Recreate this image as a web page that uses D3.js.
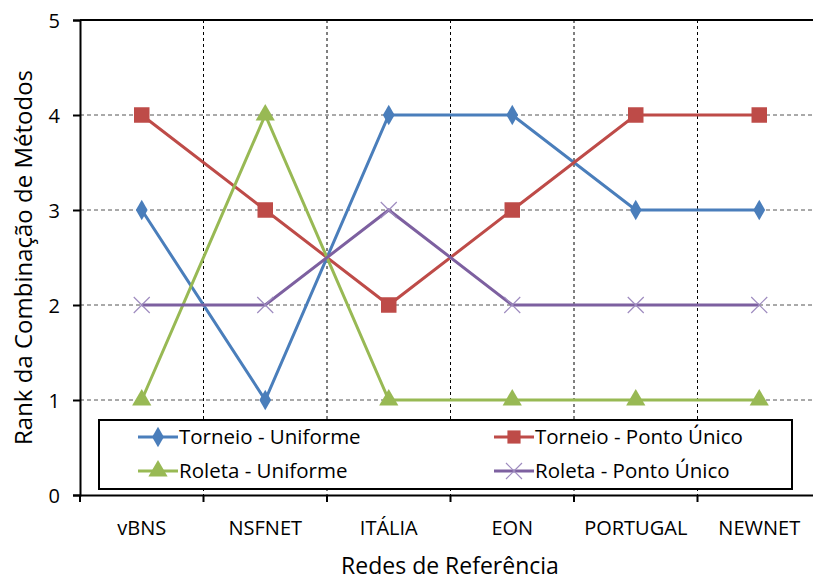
<!DOCTYPE html>
<html>
<head>
<meta charset="utf-8">
<script src="https://cdn.jsdelivr.net/npm/d3@7/dist/d3.min.js"></script>
<style>
  html, body { margin: 0; padding: 0; background: #fff; }
  svg { display: block; }
  text { font-family: "Open Sans", "Noto Sans", sans-serif; fill: #000; }
</style>
</head>
<body>
<svg id="chart" width="813" height="583"></svg>
<script>
const categories = ["vBNS", "NSFNET", "ITÁLIA", "EON", "PORTUGAL", "NEWNET"];
const yTicks = [0, 1, 2, 3, 4, 5];

const torneioUniforme = [3, 1, 4, 4, 3, 3];
const torneioPontoUnico = [4, 3, 2, 3, 4, 4];
const roletaUniforme = [1, 4, 1, 1, 1, 1];
const roletaPontoUnico = [2, 2, 3, 2, 2, 2];

const seriesNames = ["Torneio - Uniforme", "Torneio - Ponto Único", "Roleta - Uniforme", "Roleta - Ponto Único"];

const series = [
  { name: seriesNames[0], values: torneioUniforme, color: "#4A7EBB", symbol: "diamond" },
  { name: seriesNames[1], values: torneioPontoUnico, color: "#BE4B48", symbol: "square" },
  { name: seriesNames[2], values: roletaUniforme, color: "#98B954", symbol: "triangle" },
  { name: seriesNames[3], values: roletaPontoUnico, color: "#7D60A0", symbol: "cross" }
];

const svg = d3.select("#chart");
const margin = { left: 80, top: 20, right: 821, bottom: 495 };

const x = d3.scaleBand().domain(categories).range([margin.left, margin.right]).padding(0);
const y = d3.scaleLinear().domain([0, 5]).range([margin.bottom, margin.top]);

// horizontal gridlines
svg.append("g").selectAll("line").data(yTicks.filter(d => d > 0 && d < 5)).join("line")
  .attr("x1", margin.left).attr("x2", margin.right)
  .attr("y1", d => y(d)).attr("y2", d => y(d))
  .attr("stroke", "#555").attr("stroke-width", 1).attr("stroke-dasharray", "4,3");

// vertical gridlines at category boundaries
const boundaries = categories.slice(1).map(c => x(c));
svg.append("g").selectAll("line").data(boundaries).join("line")
  .attr("x1", d => d).attr("x2", d => d)
  .attr("y1", margin.top).attr("y2", margin.bottom)
  .attr("stroke", "#000").attr("stroke-width", 1).attr("stroke-dasharray", "3,3");

// top border
svg.append("line")
  .attr("x1", margin.left).attr("x2", margin.right)
  .attr("y1", margin.top).attr("y2", margin.top)
  .attr("stroke", "#000").attr("stroke-width", 2);

// y axis
const yAxis = svg.append("g")
  .attr("transform", `translate(${margin.left},0)`)
  .call(d3.axisLeft(y).tickValues(yTicks).tickFormat(d3.format("d")).tickSize(7).tickPadding(13));
yAxis.select(".domain").attr("stroke", "#000").attr("stroke-width", 2);
yAxis.selectAll(".tick line").attr("stroke", "#000").attr("stroke-width", 2);
yAxis.selectAll(".tick text").style("font-size", "20px").attr("dy", "0.35em");

// x axis
const xAxis = svg.append("g")
  .attr("transform", `translate(0,${margin.bottom})`)
  .call(d3.axisBottom(x).tickSize(0).tickPadding(26));
xAxis.select(".domain").attr("stroke", "#000").attr("stroke-width", 2);
xAxis.selectAll(".tick text").style("font-size", "20px");
svg.append("g").selectAll("line").data([margin.left].concat(boundaries)).join("line")
  .attr("x1", d => d).attr("x2", d => d)
  .attr("y1", margin.bottom).attr("y2", margin.bottom + 7)
  .attr("stroke", "#000").attr("stroke-width", 2);

// axis titles
svg.append("text")
  .attr("transform", `translate(32,${(margin.top + margin.bottom) / 2}) rotate(-90)`)
  .attr("text-anchor", "middle")
  .style("font-size", "24px")
  .text("Rank da Combinação de Métodos");
svg.append("text")
  .attr("x", 450).attr("y", 574)
  .attr("text-anchor", "middle")
  .style("font-size", "23px")
  .text("Redes de Referência");

// marker drawing
function drawMarker(g, s, cx, cy, scale) {
  const k = scale || 1;
  if (s.symbol === "diamond") {
    g.append("path").attr("d", d3.symbol(d3.symbolDiamond, 120 * k * k)())
      .attr("transform", `translate(${cx},${cy})`).attr("fill", s.color);
  } else if (s.symbol === "square") {
    g.append("path").attr("d", d3.symbol(d3.symbolSquare, 240 * k * k)())
      .attr("transform", `translate(${cx},${cy})`).attr("fill", s.color);
  } else if (s.symbol === "triangle") {
    g.append("path").attr("d", d3.symbol(d3.symbolTriangle, 160 * k * k)())
      .attr("transform", `translate(${cx},${cy})`).attr("fill", s.color);
  } else if (s.symbol === "cross") {
    const r = 8 * k;
    g.append("path").attr("d", `M${-r},${-r}L${r},${r}M${-r},${r}L${r},${-r}`)
      .attr("transform", `translate(${cx},${cy})`)
      .attr("stroke", "#9E8BBF").attr("stroke-width", 1.2).attr("fill", "none");
  }
}

const line = d3.line()
  .x((d, i) => x(categories[i]) + x.bandwidth() / 2)
  .y(d => y(d));

series.forEach(s => {
  const g = svg.append("g");
  g.append("path").datum(s.values).attr("d", line)
    .attr("fill", "none").attr("stroke", s.color).attr("stroke-width", 3);
  s.values.forEach((v, i) => drawMarker(g, s, x(categories[i]) + x.bandwidth() / 2, y(v)));
});

// legend
const legend = svg.append("g");
legend.append("rect")
  .attr("x", 99).attr("y", 420).attr("width", 693).attr("height", 69)
  .attr("fill", "#fff").attr("stroke", "#000").attr("stroke-width", 2);
const legendPos = [
  { x: 158, y: 437 }, { x: 514, y: 437 },
  { x: 158, y: 471 }, { x: 514, y: 471 }
];
series.forEach((s, i) => {
  const p = legendPos[i];
  legend.append("line")
    .attr("x1", p.x - 20).attr("x2", p.x + 20).attr("y1", p.y).attr("y2", p.y)
    .attr("stroke", s.color).attr("stroke-width", 3);
  drawMarker(legend, s, p.x, p.y, s.symbol === "square" ? 0.85 : 1);
  legend.append("text")
    .attr("x", p.x + 21).attr("y", p.y).attr("dy", "0.35em")
    .style("font-size", "20.5px")
    .text(s.name);
});
</script>
</body>
</html>
